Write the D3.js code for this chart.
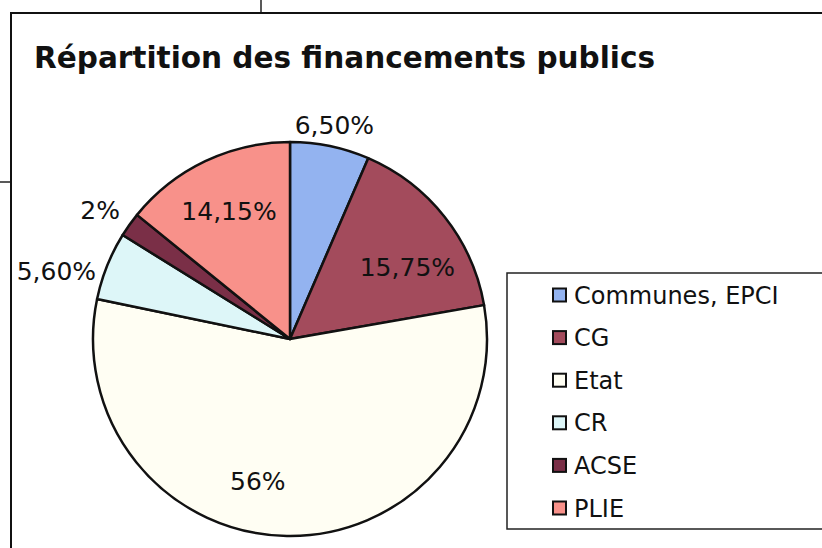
<!DOCTYPE html>
<html>
<head>
<meta charset="utf-8">
<script src="https://cdn.jsdelivr.net/npm/d3@7"></script>
<style>
  body { margin: 0; background: #fff; }
  text { font-family: "DejaVu Sans", Verdana, sans-serif; fill: #111; }
</style>
</head>
<body>
<div id="chart"></div>
<script>
// Chart data
const categories = ['Communes, EPCI', 'CG', 'Etat', 'CR', 'ACSE', 'PLIE'];
const shares = [6.5, 15.75, 56, 5.6, 2, 14.15];
const labels = ['6,50%', '15,75%', '56%', '5,60%', '2%', '14,15%'];
const colors = ['#93b3f0', '#a34b5c', '#fffef3', '#ddf6f8', '#7a2f47', '#f8918a'];

const width = 822, height = 548;

const svg = d3.select('#chart')
  .append('svg')
    .attr('width', width)
    .attr('height', height);

// Scan artefacts / outer frame
svg.append('line').attr('x1', 261).attr('y1', 0).attr('x2', 261).attr('y2', 13)
  .attr('stroke', '#222').attr('stroke-width', 1.5);
svg.append('line').attr('x1', 0).attr('y1', 182).attr('x2', 11).attr('y2', 182)
  .attr('stroke', '#222').attr('stroke-width', 1.5);
svg.append('rect')
  .attr('x', 11).attr('y', 13)
  .attr('width', width + 20).attr('height', height + 20)
  .attr('fill', 'none').attr('stroke', '#111').attr('stroke-width', 2);

// Title
svg.append('text')
  .attr('x', 34).attr('y', 68)
  .style('font-family', '"DejaVu Sans Condensed", "DejaVu Sans", sans-serif')
  .style('font-size', '31px')
  .style('font-weight', 'bold')
  .attr('textLength', 621)
  .attr('lengthAdjust', 'spacingAndGlyphs')
  .text('Répartition des financements publics');

// Pie
const cx = 290, cy = 339, r = 197;
const color = d3.scaleOrdinal().domain(categories).range(colors);

const pie = d3.pie().sort(null).value(d => d.value);
const arcs = pie(categories.map((c, i) => ({ name: c, value: shares[i], label: labels[i] })));
const arc = d3.arc().innerRadius(0).outerRadius(r);

const g = svg.append('g').attr('transform', `translate(${cx},${cy})`);

g.selectAll('path')
  .data(arcs)
  .enter()
  .append('path')
    .attr('d', arc)
    .attr('fill', d => color(d.data.name))
    .attr('stroke', '#111')
    .attr('stroke-width', 2.5)
    .attr('stroke-linejoin', 'round');

// Labels: small slices outside, the rest inside
const labelNudge = { 'CG': [6, 16], 'Etat': [-30, 0] };

g.selectAll('text.lbl')
  .data(arcs)
  .enter()
  .append('text')
    .attr('class', 'lbl')
    .style('font-size', '25px')
    .attr('dy', '0.36em')
    .each(function (d) {
      const a = (d.startAngle + d.endAngle) / 2;
      const inside = d.data.value > 10;
      const sx = Math.sin(a), sy = -Math.cos(a);
      let x, y, anchor;
      if (inside) {
        x = sx * r * 0.72; y = sy * r * 0.72; anchor = 'middle';
        const n = labelNudge[d.data.name];
        if (n) { x += n[0]; y += n[1]; }
      } else if (Math.abs(sx) < 0.3) {
        x = sx * r * 1.11; y = sy * r * 1.11; anchor = 'middle';
      } else {
        x = sx * r * 1.06; y = sy * r * 1.06 + (sy > -0.5 ? 9 : -8);
        anchor = sx < 0 ? 'end' : 'start';
      }
      d3.select(this).attr('x', x).attr('y', y).attr('text-anchor', anchor);
    })
    .text(d => d.data.label);

// Legend
const legend = svg.append('g');
legend.append('rect')
  .attr('x', 507).attr('y', 273)
  .attr('width', 340).attr('height', 256)
  .attr('fill', '#fff').attr('stroke', '#222').attr('stroke-width', 1.5);

const ly = d3.scalePoint().domain(categories).range([295, 508]);

const items = legend.selectAll('g.item')
  .data(categories)
  .enter()
  .append('g')
    .attr('class', 'item')
    .attr('transform', d => `translate(553,${ly(d)})`);

items.append('rect')
  .attr('x', 0).attr('y', -6.5)
  .attr('width', 13).attr('height', 13)
  .attr('fill', d => color(d))
  .attr('stroke', '#111').attr('stroke-width', 2);

items.append('text')
  .attr('x', 21).attr('dy', '0.36em')
  .style('font-size', '24px')
  .text(d => d);
</script>
</body>
</html>
